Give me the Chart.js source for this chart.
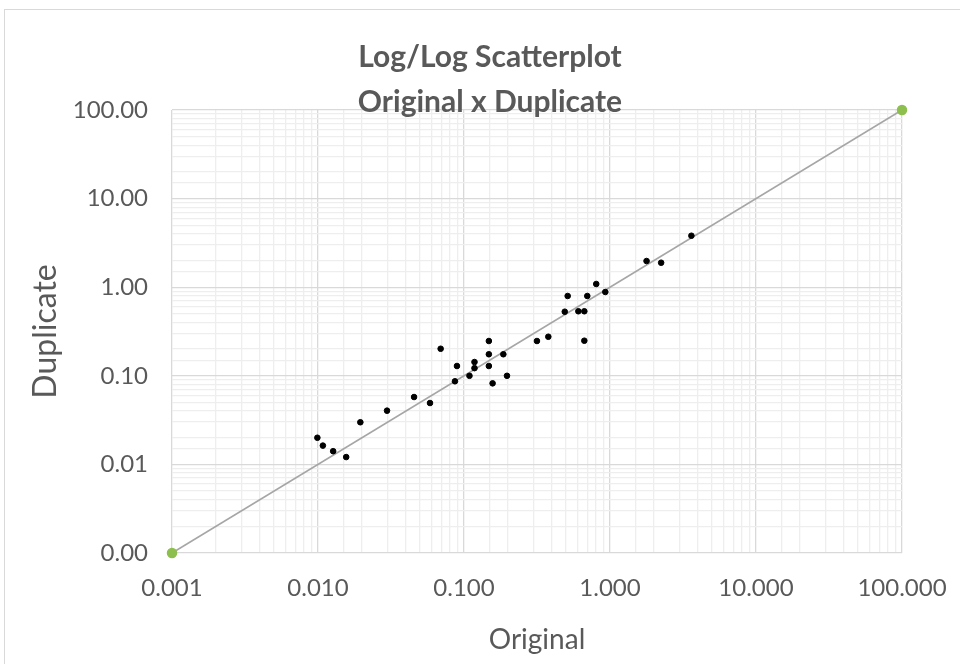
<!DOCTYPE html>
<html>
<head>
<meta charset="utf-8">
<script src="https://cdn.jsdelivr.net/npm/chart.js@4"></script>
<style>
  html, body { margin: 0; padding: 0; background: #fff; overflow: hidden; }
  #wrap { position: relative; width: 960px; height: 664px; }
  #frame { position: absolute; left: 4px; top: 9px; width: 980px; height: 700px; border: 1px solid #d9d9d9; box-sizing: border-box; }
  canvas { position: absolute; left: 0; top: 0; }
</style>
</head>
<body>
<div id="wrap">
  <div id="frame"></div>
  <canvas id="scatter" width="960" height="664"></canvas>
</div>
<script>
// sample results, original vs duplicate
var original = [0.0099, 0.0108, 0.0127, 0.0156, 0.0195, 0.0297, 0.0455, 0.0585, 0.0692, 0.0895,
  0.0867, 0.109, 0.118, 0.118, 0.148, 0.148, 0.148, 0.157, 0.186, 0.197,
  0.316, 0.378, 0.667, 0.490, 0.513, 0.607, 0.667, 0.699, 0.805, 0.929,
  1.78, 2.24, 3.61];
var duplicate = [0.0200, 0.0163, 0.0141, 0.0121, 0.0299, 0.0404, 0.0576, 0.0493, 0.202, 0.129,
  0.0867, 0.100, 0.143, 0.122, 0.247, 0.175, 0.129, 0.0822, 0.175, 0.100,
  0.247, 0.276, 0.249, 0.529, 0.796, 0.535, 0.535, 0.796, 1.087, 0.883,
  1.975, 1.89, 3.81];

// 1:1 reference line
var lineX = [0.001, 100];
var lineY = [0.001, 100];

var axisMin = 0.001;
var axisMax = 100;

function isDecade(v) {
  var l = Math.log10(v);
  return Math.abs(l - Math.round(l)) < 1e-9;
}

var font = "Lato, 'Open Sans', sans-serif";
var textColor = "#595959";

var titlePlugin = {
  id: "twoLineTitle",
  afterDraw: function (chart) {
    var c = chart.ctx;
    c.save();
    c.fillStyle = textColor;
    c.font = "bold 30px " + font;
    c.textAlign = "center";
    c.textBaseline = "middle";
    c.fillText("Log/Log Scatterplot", 490, 57);
    c.fillText("Original x Duplicate", 490, 102);
    c.restore();
  }
};

function gridColor(ctx) {
  return ctx.tick && isDecade(ctx.tick.value) ? "#d9d9d9" : "#eeeeee";
}

var points = original.map(function (x, i) { return { x: x, y: duplicate[i] }; });
var linePoints = lineX.map(function (x, i) { return { x: x, y: lineY[i] }; });

new Chart(document.getElementById("scatter").getContext("2d"), {
  type: "scatter",
  data: {
    datasets: [
      {
        label: "Samples",
        data: points,
        backgroundColor: "#000",
        borderColor: "#000",
        pointRadius: 2.8,
        pointHoverRadius: 2.8
      },
      {
        label: "1:1",
        data: linePoints,
        showLine: true,
        clip: false,
        borderColor: "#a6a6a6",
        borderWidth: 1.5,
        backgroundColor: "#8dbf4e",
        pointBorderColor: "#8dbf4e",
        pointRadius: 4.5
      }
    ]
  },
  options: {
    responsive: false,
    animation: false,
    layout: { padding: { top: 110, right: 58, left: 0, bottom: 0 } },
    plugins: {
      legend: { display: false },
      tooltip: { enabled: false }
    },
    scales: {
      x: {
        type: "logarithmic",
        min: axisMin,
        max: axisMax,
        afterFit: function (s) {
          s.height = 111;
          s.paddingLeft = 0;
          s.paddingRight = 0;
        },
        border: { display: false },
        grid: { drawTicks: false, color: gridColor, lineWidth: 1.3 },
        ticks: {
          autoSkip: false,
          maxRotation: 0,
          padding: 21,
          color: textColor,
          font: { family: font, size: 24 },
          callback: function (v) { return isDecade(v) ? Number(v).toFixed(3) : ""; }
        },
        title: {
          display: true,
          text: "Original",
          color: textColor,
          font: { family: font, size: 28 },
          padding: { top: 0, bottom: 7 }
        }
      },
      y: {
        type: "logarithmic",
        min: axisMin,
        max: axisMax,
        afterFit: function (s) {
          s.width = 172;
          s.paddingTop = 0;
          s.paddingBottom = 0;
        },
        border: { display: false },
        grid: { drawTicks: false, color: gridColor, lineWidth: 1.3 },
        ticks: {
          autoSkip: false,
          padding: 24,
          color: textColor,
          font: { family: font, size: 24 },
          callback: function (v) { return isDecade(v) ? Number(v).toFixed(2) : ""; }
        },
        title: {
          display: true,
          text: "Duplicate",
          color: textColor,
          font: { family: font, size: 32 },
          padding: { top: 26, bottom: 0 }
        }
      }
    }
  },
  plugins: [titlePlugin]
});
</script>
</body>
</html>
